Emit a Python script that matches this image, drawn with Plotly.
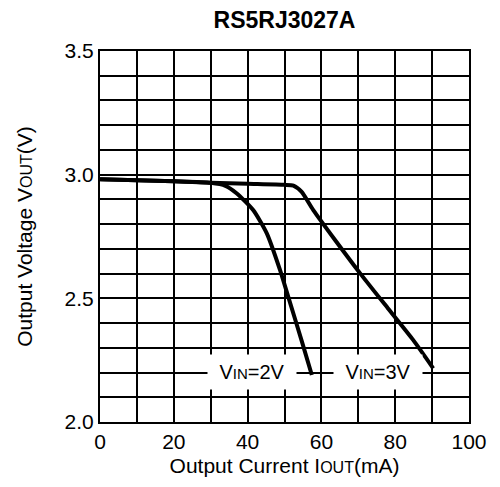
import plotly.graph_objects as go

title_text = "RS5RJ3027A"

# VIN = 2V curve
iout_2v = [0, 10, 20, 30, 34, 37, 41.5, 45.2, 48.8, 51, 54.6, 57.4]
vout_2v = [2.981, 2.977, 2.973, 2.967, 2.955, 2.925, 2.857, 2.763, 2.614, 2.507, 2.331, 2.19]

# VIN = 3V curve
iout_3v = [0, 10, 20, 30, 40, 50, 52.4, 54.6, 57.8, 64, 70.5, 78, 84.9, 90.3]
vout_3v = [2.981, 2.977, 2.973, 2.967, 2.963, 2.959, 2.956, 2.931, 2.857, 2.73, 2.601, 2.46, 2.331, 2.217]

x_ticks = [0, 20, 40, 60, 80, 100]
y_ticks = [2.0, 2.5, 3.0, 3.5]

labels = ["V<span style='font-size:15px'>IN</span>=2V", "V<span style='font-size:15px'>IN</span>=3V"]
label_x = [41.2, 75.3]
label_y = [2.202, 2.202]

FONT = "Liberation Sans, Arial, Helvetica, sans-serif"
W, H = 492, 479  # page body has an 8px margin

fig = go.Figure()
for xs, ys in [(iout_2v, vout_2v), (iout_3v, vout_3v)]:
    fig.add_trace(go.Scatter(x=xs, y=ys, mode="lines",
                             line=dict(color="black", width=4, shape="spline", smoothing=0.6),
                             showlegend=False, hoverinfo="skip"))

for t, x, y in zip(labels, label_x, label_y):
    fig.add_annotation(x=x, y=y, xref="x", yref="y", text=t, showarrow=False,
                       font=dict(family=FONT, size=20, color="black"),
                       bgcolor="white", width=84, height=30, borderpad=2)

fig.update_layout(
    width=W, height=H,
    margin=dict(l=92, r=31, t=43, b=65),
    paper_bgcolor="white", plot_bgcolor="white",
    font=dict(family=FONT, size=21, color="black"),
    title=dict(text="<b>" + title_text + "</b>", x=276.5 / W, xanchor="center",
               y=1, yanchor="top", yref="container", pad=dict(t=4),
               font=dict(family=FONT, size=23, color="black")),
)
fig.update_xaxes(range=[0, 100], tickvals=x_ticks, ticktext=[str(v) for v in x_ticks],
                 showgrid=True, gridcolor="black", gridwidth=1.5,
                 minor=dict(dtick=10, showgrid=True, gridcolor="black", gridwidth=1.5),
                 showline=True, linecolor="black", linewidth=2, mirror=True,
                 ticks="", zeroline=False,
                 title=dict(text="Output Current I<span style='font-size:16px'>OUT</span>(mA)",
                            font=dict(size=21), standoff=6))
fig.update_yaxes(range=[2.0, 3.5], tickvals=y_ticks, ticktext=[f"{v:.1f}" for v in y_ticks],
                 showgrid=True, gridcolor="black", gridwidth=1.5,
                 minor=dict(dtick=0.1, showgrid=True, gridcolor="black", gridwidth=1.5),
                 showline=True, linecolor="black", linewidth=2, mirror=True,
                 ticks="", zeroline=False,
                 title=dict(text="Output Voltage V<span style='font-size:16px'>OUT</span>(V)",
                            font=dict(size=21), standoff=26))

fig.write_html("out.html")
